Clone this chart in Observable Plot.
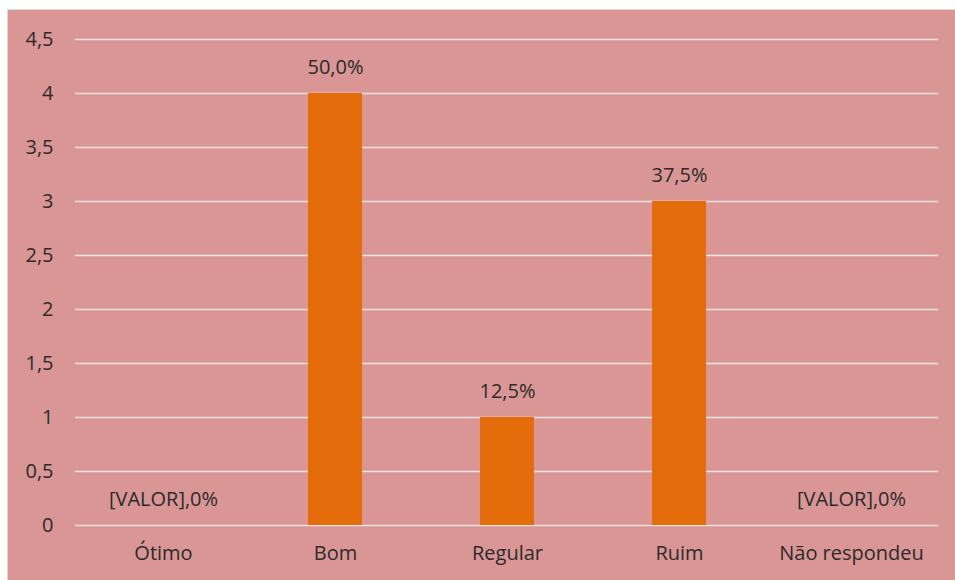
<!DOCTYPE html>
<html>
<head>
<meta charset="utf-8">
<script src="https://cdn.jsdelivr.net/npm/d3@7"></script>
<script src="https://cdn.jsdelivr.net/npm/@observablehq/plot@0.6"></script>
<style>
  html, body { margin: 0; padding: 0; background: #ffffff; }
  #chart { position: absolute; left: 7px; top: 9px; width: 948px; height: 571px; border-left: 1px solid #d9d9d9; border-top: 1px solid #d9d9d9; background: #D99694; }
  #chart svg { display: block; background: #D99694; }
</style>
</head>
<body>
<div id="chart"></div>
<script>
const categories = ["Ótimo", "Bom", "Regular", "Ruim", "Não respondeu"];
const values = [0, 4, 1, 3, 0];
const valueLabels = ["[VALOR],0%", "50,0%", "12,5%", "37,5%", "[VALOR],0%"];
const yTicks = [0, 0.5, 1, 1.5, 2, 2.5, 3, 3.5, 4, 4.5];

const data = categories.map((c, i) => ({category: c, value: values[i], label: valueLabels[i]}));
const fmt = d => String(d).replace(".", ",");
const font = "'Open Sans', Lato, sans-serif";
const fs = 20;

const chart = Plot.plot({
  width: 947,
  height: 570,
  marginLeft: 67,
  marginRight: 17,
  marginTop: 29,
  marginBottom: 55,
  style: {background: "#D99694", fontFamily: font, fontSize: fs + "px", color: "#2b2b2b"},
  x: {domain: categories, paddingInner: 0.687, paddingOuter: 0.3435, label: null},
  y: {domain: [0, 4.5], label: null},
  marks: [
    Plot.ruleY(yTicks, {stroke: "#f4e4e4", strokeWidth: 1.5}),
    Plot.barY(data, {x: "category", y: "value", fill: "#E46C0A"}),
    Plot.text(data, {x: "category", y: "value", text: "label", dy: -26, fill: "#2b2b2b", fontSize: fs}),
    Plot.axisY({ticks: yTicks, tickFormat: fmt, tickSize: 0, tickPadding: 22, fontSize: fs, fill: "#2b2b2b", label: null}),
    Plot.axisX({tickSize: 0, tickPadding: 20, fontSize: fs, fill: "#2b2b2b", label: null})
  ]
});
document.getElementById("chart").appendChild(chart);
</script>
</body>
</html>
